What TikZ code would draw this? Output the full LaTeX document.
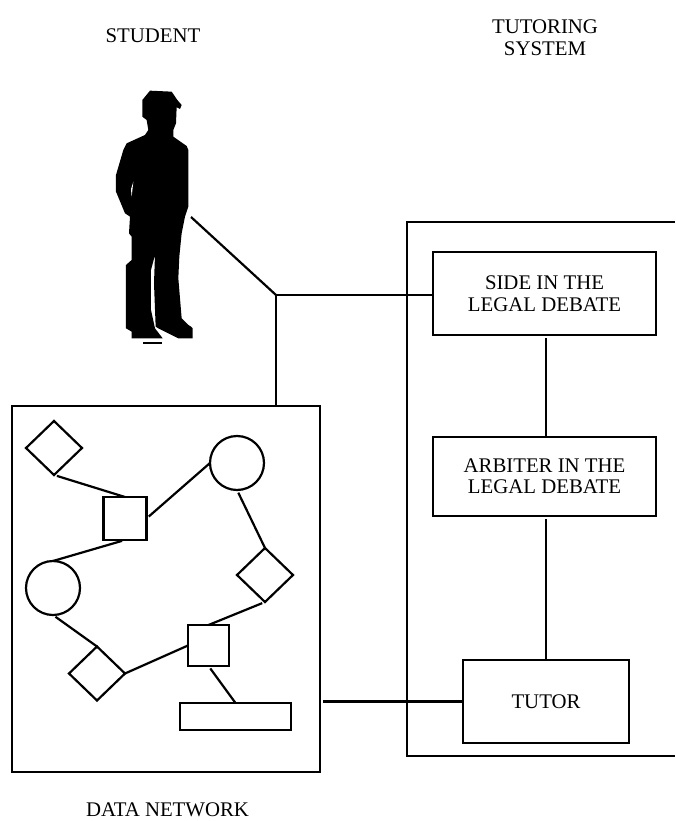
\documentclass[tikz,border=0pt]{standalone}
\usepackage{fontspec}
\setmainfont{Liberation Serif}
\usetikzlibrary{shapes.geometric}
\tikzset{
    link/.style={line width=2.2pt},
    label/.style={align=center, font=\fontsize{20.8}{22}\selectfont},
    boxnode/.style={draw, line width=2.2pt, inner sep=0pt, outer sep=0pt, align=center, font=\fontsize{20.8}{22}\selectfont},
    squarenode/.style={draw, line width=2.2pt, inner sep=0pt, outer sep=0pt, minimum size=#1},
    circlenode/.style={draw, circle, line width=2.2pt, inner sep=0pt, outer sep=0pt, minimum size=54pt},
    diamondnode/.style={draw, diamond, line width=2.2pt, inner sep=0pt, outer sep=0pt, minimum width=56pt, minimum height=54pt}
}
\begin{document}
\begin{tikzpicture}[x=1pt, y=-1pt]
    \useasboundingbox (0,0) rectangle (675,821);

    \node[label, anchor=base] (studentlabel) at (153,43) {STUDENT};
    \node[label] (systemlabel) at (545,38) {TUTORING\\SYSTEM};
    \node[label, anchor=base] (networklabel) at (167.5,816.5) {DATA NETWORK};

    % student
    \begin{scope}[xshift=90pt, yshift=-70pt, x=0.3333pt, y=-0.3333pt]
        \fill[black] (180,62) -- (245,65) -- (262,90) -- (275,105) -- (270,117) -- (260,112)
            -- (258,160) -- (250,180) -- (250,200) -- (290,228) -- (295,240) -- (295,410)
            -- (285,440) -- (275,490) -- (268,560) -- (265,625) -- (275,745) -- (295,765)
            -- (303,770) -- (308,775) -- (308,805) -- (265,805) -- (205,775) -- (197,770)
            -- (192,640) -- (195,555) -- (183,600) -- (183,720) -- (195,775) -- (218,805)
            -- (125,805) -- (125,785) -- (108,775) -- (108,585) -- (125,570) -- (125,500)
            -- (117,490) -- (120,440) -- (105,430) -- (78,365) -- (78,315) -- (100,240)
            -- (110,220) -- (165,195) -- (175,180) -- (170,150) -- (157,140) -- (157,90) -- cycle;
        \fill[white] (130,335) -- (123,358) -- (125,380) -- cycle;
        \fill[black] (160,815) rectangle (215,821);
    \end{scope}
    \coordinate (student) at (191,217);
    \coordinate (junction) at (276,295);

    % data network
    \node[boxnode, minimum width=308pt, minimum height=366pt] (network) at (166,589) {};
    \node[diamondnode] (diaa) at (54,448) {};
    \node[squarenode=43pt] (squa) at (125,518.5) {};
    \node[circlenode] (cira) at (237,463) {};
    \node[circlenode] (cirb) at (53,588) {};
    \node[diamondnode] (diab) at (265,575) {};
    \node[diamondnode] (diac) at (97,673.5) {};
    \node[squarenode=41pt] (squb) at (208.5,645.5) {};
    \node[boxnode, minimum width=111pt, minimum height=27pt] (record) at (235.5,716.5) {};

    % tutoring system
    \draw[link] (675,222) -- (407,222) -- (407,756) -- (675,756);
    \node[boxnode, minimum width=223pt, minimum height=83pt] (side) at (544.5,293.5) {SIDE IN THE\\LEGAL DEBATE};
    \node[boxnode, minimum width=223pt, minimum height=79pt] (arbiter) at (544.5,476.5) {ARBITER IN THE\\[-1pt]LEGAL DEBATE};
    \node[boxnode, minimum width=166pt, minimum height=83pt] (tutor) at (546,701.5) {TUTOR};

    \draw[link] (student) -- (junction); % student-junction
    \draw[link] (junction) -- (side.west |- junction); % junction-side
    \draw[link] (junction) -- (junction |- network.north); % junction-network
    \draw[link, shorten <=3pt] (side.south -| tutor.north) -- (arbiter.north -| tutor.north); % side-arbiter
    \draw[link, shorten <=3pt] (arbiter.south -| tutor.north) -- (tutor.north); % arbiter-tutor
    \draw[link, shorten <=3pt] (network.east |- tutor.west) -- (tutor.west); % network-tutor

    \draw[link, shorten <=3pt] (diaa.south) -- (squa.north); % diaa-squa
    \draw[link, shorten <=3pt] (squa.east) -- (cira.west); % squa-cira
    \draw[link, shorten <=3pt] (squa.south) -- (cirb.north); % squa-cirb
    \draw[link, shorten <=3pt] (cira.south) -- (diab.north); % cira-diab
    \draw[link, shorten <=3pt] (diab.south) -- (squb.north); % diab-squb
    \draw[link, shorten <=3pt] (cirb.south) -- (diac.north); % cirb-diac
    \draw[link] (diac.east) -- (squb.west); % diac-squb
    \draw[link, shorten <=3pt] (squb.south) -- (record.north); % squb-record
\end{tikzpicture}
\end{document}
